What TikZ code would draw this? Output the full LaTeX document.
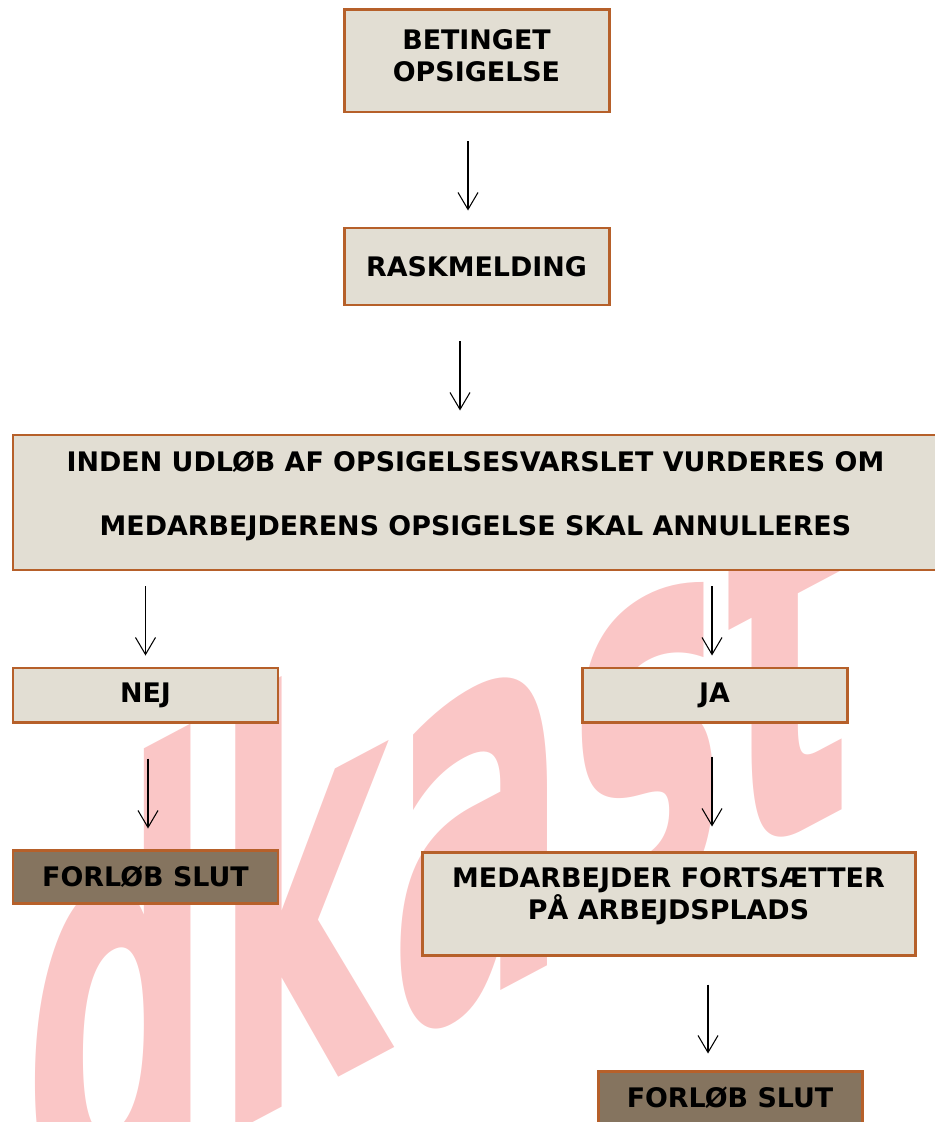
\documentclass[tikz,border=0pt]{standalone}
\usepackage{fontspec}
\setmainfont{DejaVu Sans}
\usetikzlibrary{arrows.meta}

\definecolor{boxfill}{RGB}{226,222,211}
\definecolor{boxedge}{RGB}{182,96,42}
\definecolor{endfill}{RGB}{133,116,95}
\definecolor{wmark}{RGB}{250,198,198}

\begin{document}
\begin{tikzpicture}[
    flowbox/.style={rectangle, draw=boxedge, line width=1.7pt, fill=boxfill, inner sep=0pt},
    endbox/.style={flowbox, fill=endfill},
    boxtext/.style={font=\fontsize{15.3}{18.2}\selectfont\bfseries, align=center, inner sep=0pt},
    flow/.style={-{Straight Barb[length=0.34cm, width=0.4cm]}, line width=0.6pt}
]
    \useasboundingbox (0,0) rectangle (18.68,-22.44);

    \begin{scope}[cm={1.508,0.799,0,3.226,(17.06,-16.08)}]
        \node[transform shape, anchor=base east, inner sep=0pt, text=wmark, font=\bfseries\fontsize{100}{100}\selectfont] (udkast) at (0,0) {Udkast};
    \end{scope}

    \node[flowbox, minimum width=5.30cm, minimum height=2.04cm] (bet) at (9.53,-1.22) {};
    \node[boxtext] (bettext) at ([yshift=0.1cm]bet.center) {BETINGET\\OPSIGELSE};
    \node[flowbox, boxtext, minimum width=5.30cm, minimum height=1.54cm] (rask) at (9.53,-5.33) {RASKMELDING};

    \node[flowbox, minimum width=18.5cm, minimum height=2.70cm] (inden) at (9.51,-10.05) {};
    \node[boxtext, font=\fontsize{15.3}{36.4}\selectfont\bfseries] (indentext) at ([yshift=0.13cm]inden.center) {INDEN UDLØB AF OPSIGELSESVARSLET VURDERES OM\\MEDARBEJDERENS OPSIGELSE SKAL ANNULLERES};

    \node[flowbox, boxtext, minimum width=5.30cm, minimum height=1.08cm] (nej) at (2.91,-13.90) {NEJ};
    \node[flowbox, boxtext, minimum width=5.30cm, minimum height=1.08cm] (ja) at (14.29,-13.90) {JA};

    \node[endbox, boxtext, minimum width=5.30cm, minimum height=1.06cm] (slut1) at (2.91,-17.53) {FORLØB SLUT};
    \node[flowbox, minimum width=9.86cm, minimum height=2.06cm] (fort) at (13.37,-18.07) {};
    \node[boxtext] (forttext) at ([yshift=0.15cm]fort.center) {MEDARBEJDER FORTSÆTTER\\PÅ ARBEJDSPLADS};
    \node[endbox, boxtext, minimum width=5.28cm, minimum height=1.06cm] (slut2) at (14.60,-21.95) {FORLØB SLUT};

    \draw[flow, shorten <=0.56cm, shorten >=0.32cm] ([xshift=-0.17cm]bet.south) -- ([xshift=-0.17cm]rask.north);
    \draw[flow, shorten <=0.7cm, shorten >=0.46cm] ([xshift=-0.33cm]rask.south) -- ([xshift=-0.33cm]rask.south |- inden.north);
    \draw[flow, shorten <=0.3cm, shorten >=0.22cm] (nej.north |- inden.south) -- (nej.north);
    \draw[flow, shorten <=0.3cm, shorten >=0.22cm] ([xshift=-0.05cm]ja.north |- inden.south) -- ([xshift=-0.05cm]ja.north);
    \draw[flow, shorten <=0.7cm, shorten >=0.4cm] ([xshift=0.05cm]nej.south) -- ([xshift=0.05cm]slut1.north);
    \draw[flow, shorten <=0.66cm, shorten >=0.48cm] ([xshift=-0.05cm]ja.south) -- ([xshift=-0.05cm]ja.south |- fort.north);
    \draw[flow, shorten <=0.56cm, shorten >=0.32cm] ([xshift=-0.44cm]slut2.north |- fort.south) -- ([xshift=-0.44cm]slut2.north);
\end{tikzpicture}
\end{document}
